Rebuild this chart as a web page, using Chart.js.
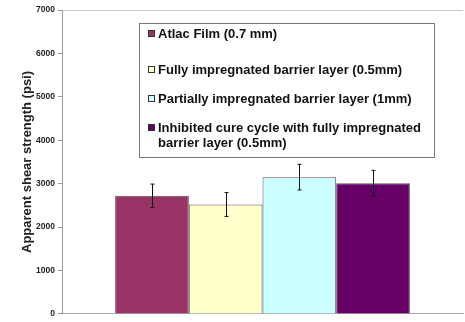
<!DOCTYPE html>
<html>
<head>
<meta charset="utf-8">
<script src="https://cdn.jsdelivr.net/npm/chart.js@4/dist/chart.umd.min.js"></script>
<style>
  html, body { margin: 0; padding: 0; background: #fff; }
  #wrap { width: 465px; height: 322px; position: relative; }
</style>
</head>
<body>
<div id="wrap"><canvas id="c" width="465" height="322"></canvas></div>
<script>
// Apparent shear strength by barrier-layer configuration
const seriesLabels = [
  'Atlac Film (0.7 mm)',
  'Fully impregnated barrier layer (0.5mm)',
  'Partially impregnated barrier layer (1mm)',
  'Inhibited cure cycle with fully impregnated barrier layer (0.5mm)'
];
const strength = [2720, 2520, 3150, 3010];   // psi
const strengthSd = [270, 275, 295, 295];     // psi, +/- error
const barColors = ['#993366', '#FFFFCC', '#CCFFFF', '#660066'];
const yTicks = [0, 1000, 2000, 3000, 4000, 5000, 6000, 7000];
const yTitle = 'Apparent shear strength (psi)';

const FONT = '"Liberation Sans", Arial, sans-serif';

// Vertical error bars with small caps
const errorBars = {
  id: 'errorBars',
  afterDatasetsDraw(chart) {
    const ctx = chart.ctx;
    const y = chart.scales.y;
    ctx.save();
    ctx.strokeStyle = '#111';
    ctx.lineWidth = 1;
    chart.data.datasets.forEach((ds, i) => {
      const bar = chart.getDatasetMeta(i).data[0];
      const v = ds.data[0], e = ds.err;
      const x = Math.round(bar.x) + 0.5;
      const top = y.getPixelForValue(v + e);
      const bot = y.getPixelForValue(v - e);
      ctx.beginPath();
      ctx.moveTo(x, top); ctx.lineTo(x, bot);
      ctx.moveTo(x - 2, top); ctx.lineTo(x + 2, top);
      ctx.moveTo(x - 2, bot); ctx.lineTo(x + 2, bot);
      ctx.stroke();
    });
    ctx.restore();
  }
};

// Boxed legend inside the plot, with wrapped labels
const boxLegend = {
  id: 'boxLegend',
  afterDraw(chart) {
    const ctx = chart.ctx;
    const box = { x: 139.5, y: 23.5, w: 295, h: 134 };
    const rowY = [34, 70, 99, 128];
    const lineH = 15.5;
    ctx.save();
    ctx.fillStyle = '#fff';
    ctx.fillRect(box.x, box.y, box.w, box.h);
    ctx.strokeStyle = '#777';
    ctx.lineWidth = 1;
    ctx.strokeRect(box.x, box.y, box.w, box.h);
    ctx.font = 'bold 13px ' + FONT;
    ctx.textBaseline = 'middle';
    chart.data.datasets.forEach((ds, i) => {
      const cy = rowY[i];
      ctx.fillStyle = ds.backgroundColor;
      ctx.fillRect(148.5, cy - 3.5, 6, 6);
      ctx.strokeStyle = '#333';
      ctx.strokeRect(148.5, cy - 3.5, 6, 6);
      // word wrap
      const words = ds.label.split(' ');
      const lines = [];
      let cur = '';
      words.forEach(w => {
        const t = cur ? cur + ' ' + w : w;
        if (ctx.measureText(t).width > 272 && cur) { lines.push(cur); cur = w; }
        else cur = t;
      });
      lines.push(cur);
      ctx.fillStyle = '#111';
      lines.forEach((ln, k) => ctx.fillText(ln, 158, cy + k * lineH));
    });
    ctx.restore();
  }
};

new Chart(document.getElementById('c'), {
  type: 'bar',
  data: {
    labels: [''],
    datasets: seriesLabels.map((lab, i) => ({
      label: lab,
      data: [strength[i]],
      err: strengthSd[i],
      backgroundColor: barColors[i],
      borderColor: '#555',
      borderWidth: 1,
      borderSkipped: 'bottom'
    }))
  },
  options: {
    responsive: false,
    animation: false,
    layout: { padding: { left: 20, right: 2, top: 10, bottom: 0 } },
    categoryPercentage: 0.735,
    barPercentage: 1.0,
    plugins: { legend: { display: false }, tooltip: { enabled: false } },
    scales: {
      x: {
        grid: { display: false },
        border: { color: '#aaa', width: 1 },
        ticks: { display: false },
        afterFit(s) { s.height = 6; }
      },
      y: {
        min: 0, max: 7000,
        afterBuildTicks(s) { s.ticks = yTicks.map(v => ({ value: v })); },
        border: { color: '#999', width: 1 },
        grid: {
          color: c => (c.tick && c.tick.value === 7000 ? '#c8c8c8' : 'rgba(0,0,0,0)'),
          tickColor: '#999',
          tickLength: 4,
          drawTicks: true
        },
        ticks: {
          color: '#222',
          font: { family: FONT, size: 8.5, weight: 'bold' },
          padding: 3,
          callback: v => String(v)
        },
        title: {
          display: true,
          text: yTitle,
          color: '#222',
          font: { family: FONT, size: 13, weight: 'bold' },
          padding: { top: 0, bottom: 0 }
        },
        afterFit(s) { s.width = 42; }
      }
    }
  },
  plugins: [errorBars, boxLegend]
});
</script>
</body>
</html>
